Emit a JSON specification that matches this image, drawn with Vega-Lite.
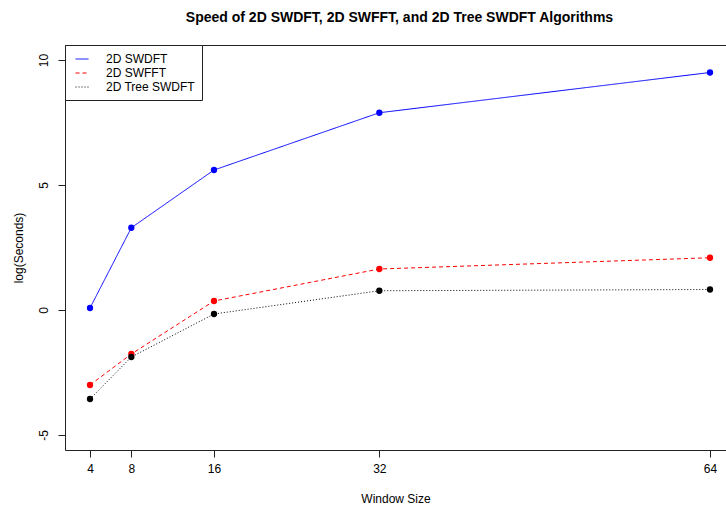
{
  "$schema": "https://vega.github.io/schema/vega-lite/v6.json",
  "width": 661,
  "height": 405,
  "autosize": "none",
  "padding": {"left": 65, "top": 45, "right": 0, "bottom": 56},
  "background": "white",
  "title": {
    "text": "Speed of 2D SWDFT, 2D SWFFT, and 2D Tree SWDFT Algorithms",
    "font": "Liberation Sans",
    "fontSize": 14,
    "fontWeight": "bold",
    "color": "black",
    "anchor": "middle",
    "dx": 4,
    "offset": 20
  },
  "config": {
    "view": {"stroke": null},
    "font": "Liberation Sans",
    "axis": {
      "grid": false,
      "domainColor": "#222",
      "domainWidth": 1,
      "tickColor": "#222",
      "tickSize": 7,
      "labelFont": "Liberation Sans",
      "labelFontSize": 12,
      "labelColor": "black",
      "titleFont": "Liberation Sans",
      "titleFontSize": 12,
      "titleFontWeight": "normal",
      "titleColor": "black"
    },
    "legend": {
      "orient": "top-left",
      "offset": 0,
      "strokeColor": "#222",
      "fillColor": "white",
      "padding": 7,
      "symbolType": "stroke",
      "symbolSize": 169,
      "symbolStrokeWidth": 1,
      "symbolOffset": 3,
      "labelFont": "Liberation Sans",
      "labelFontSize": 12,
      "labelColor": "black",
      "labelOffset": 17,
      "rowPadding": 1,
      "cornerRadius": 0
    }
  },
  "data": {
    "values": [
      {"size": 4, "series": "2D SWDFT", "value": 0.08},
      {"size": 8, "series": "2D SWDFT", "value": 3.29},
      {"size": 16, "series": "2D SWDFT", "value": 5.6},
      {"size": 32, "series": "2D SWDFT", "value": 7.89},
      {"size": 64, "series": "2D SWDFT", "value": 9.5},
      {"size": 4, "series": "2D SWFFT", "value": -3.0},
      {"size": 8, "series": "2D SWFFT", "value": -1.76},
      {"size": 16, "series": "2D SWFFT", "value": 0.36},
      {"size": 32, "series": "2D SWFFT", "value": 1.64},
      {"size": 64, "series": "2D SWFFT", "value": 2.09},
      {"size": 4, "series": "2D Tree SWDFT", "value": -3.56},
      {"size": 8, "series": "2D Tree SWDFT", "value": -1.88},
      {"size": 16, "series": "2D Tree SWDFT", "value": -0.16},
      {"size": 32, "series": "2D Tree SWDFT", "value": 0.77},
      {"size": 64, "series": "2D Tree SWDFT", "value": 0.82}
    ]
  },
  "layer": [
    {
      "mark": {"type": "line", "strokeWidth": 1},
      "encoding": {
        "x": {
          "field": "size",
          "type": "quantitative",
          "scale": {"domain": [1.58, 65.55], "nice": false, "zero": false},
          "axis": {
            "orient": "bottom",
            "values": [4, 8, 16, 32, 64],
            "title": "Window Size",
            "labelPadding": 6,
            "titlePadding": 19
          }
        },
        "y": {
          "field": "value",
          "type": "quantitative",
          "scale": {"domain": [-5.6, 10.6], "nice": false, "zero": false},
          "axis": {
            "values": [-5, 0, 5, 10],
            "title": "log(Seconds)",
            "labelAngle": 270,
            "labelAlign": "center",
            "labelBaseline": "bottom",
            "labelPadding": 8,
            "labelExpr": "'' + datum.value",
            "titlePadding": 12
          }
        },
        "color": {
          "field": "series",
          "type": "nominal",
          "scale": {
            "domain": ["2D SWDFT", "2D SWFFT", "2D Tree SWDFT"],
            "range": ["#0000FF", "#FF0000", "#000000"]
          },
          "legend": {"title": null}
        },
        "strokeDash": {
          "field": "series",
          "type": "nominal",
          "scale": {
            "domain": ["2D SWDFT", "2D SWFFT", "2D Tree SWDFT"],
            "range": [[1, 0], [4, 3], [1, 2]]
          },
          "legend": {"title": null}
        }
      }
    },
    {
      "mark": {"type": "point", "filled": true, "size": 40, "opacity": 1},
      "encoding": {
        "x": {
          "field": "size",
          "type": "quantitative",
          "scale": {"domain": [1.58, 65.55], "nice": false, "zero": false},
          "axis": {
            "orient": "top",
            "labels": false,
            "ticks": false,
            "title": null,
            "domain": true
          }
        },
        "y": {"field": "value", "type": "quantitative"},
        "color": {"field": "series", "type": "nominal", "legend": null}
      }
    }
  ],
  "resolve": {"axis": {"x": "independent"}}
}
